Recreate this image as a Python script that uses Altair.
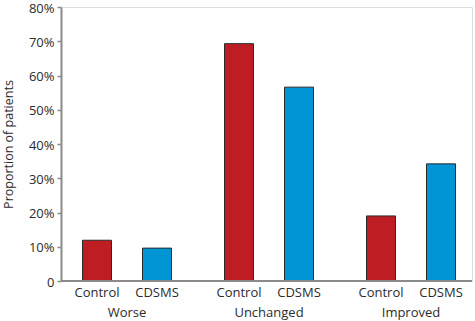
import altair as alt
import pandas as pd

groups = ["Worse", "Unchanged", "Improved"]
types = ["Control", "CDSMS"]
control_vals = [11.9, 69.3, 19.0]
cdsms_vals = [9.6, 56.6, 34.2]
y_ticks = [0, 10, 20, 30, 40, 50, 60, 70, 80]

rows = []
for g, c, d in zip(groups, control_vals, cdsms_vals):
    rows.append({"group": g, "type": "Control", "value": c})
    rows.append({"group": g, "type": "CDSMS", "value": d})
df = pd.DataFrame(rows)

W, H = 411, 274
FONT = "Open Sans"
TXT = "#2b2b2b"
AXC = "#8a8a8a"

x_scale = alt.Scale(domain=groups, range=[-5, 421], paddingInner=0, paddingOuter=0)
x_axis = alt.Axis(title=None, domain=False, ticks=False, labelAngle=0,
                  labelPadding=25, labelFontSize=13, labelFont=FONT,
                  labelColor=TXT)
xo_enc = alt.XOffset("type:N", sort=types,
                     scale=alt.Scale(domain=types, paddingInner=0.5167, paddingOuter=0.4417))

y_scale = alt.Scale(domain=[0, 80], nice=False)
y_axis = alt.Axis(title="Proportion of patients", values=y_ticks,
                  labelExpr="datum.value == 0 ? '0' : datum.value + '%'",
                  labelOverlap=False, labelOffset=1,
                  grid=False, domainColor=AXC, domainWidth=2,
                  tickColor=AXC, tickSize=4, tickWidth=1.5,
                  labelFontSize=13, labelFont=FONT, labelColor=TXT,
                  labelPadding=3,
                  titleFontSize=12.5, titleFont=FONT, titleColor=TXT,
                  titleFontWeight="normal", titlePadding=13)

bars = alt.Chart(df).mark_bar(stroke="#2a2a2a", strokeWidth=1).encode(
    x=alt.X("group:N", sort=groups, scale=x_scale, axis=x_axis),
    xOffset=xo_enc,
    y=alt.Y("value:Q", scale=y_scale, axis=y_axis),
    color=alt.Color("type:N", sort=types,
                    scale=alt.Scale(domain=types, range=["#BE1E23", "#0096D6"]),
                    legend=None),
)

type_labels = alt.Chart(df).mark_text(fontSize=13, font=FONT, color=TXT, baseline="middle").encode(
    x=alt.X("group:N", sort=groups, scale=x_scale, axis=x_axis),
    xOffset=xo_enc,
    y=alt.value(H + 12),
    text="type:N",
)

baseline = alt.Chart(pd.DataFrame({"value": [0]})).mark_rule(color=AXC, strokeWidth=2).encode(
    y=alt.Y("value:Q", scale=y_scale, axis=y_axis),
    x=alt.value(0),
    x2=alt.value(W),
)

chart = alt.layer(bars, type_labels, baseline).properties(
    width=W, height=H,
    autosize=alt.AutoSizeParams(type="none"),
    padding={"left": 61, "top": 7, "right": 3, "bottom": 40},
).configure_view(stroke=None).configure(background="white")

chart.save("out.html", embed_options={"renderer": "svg", "actions": False})
